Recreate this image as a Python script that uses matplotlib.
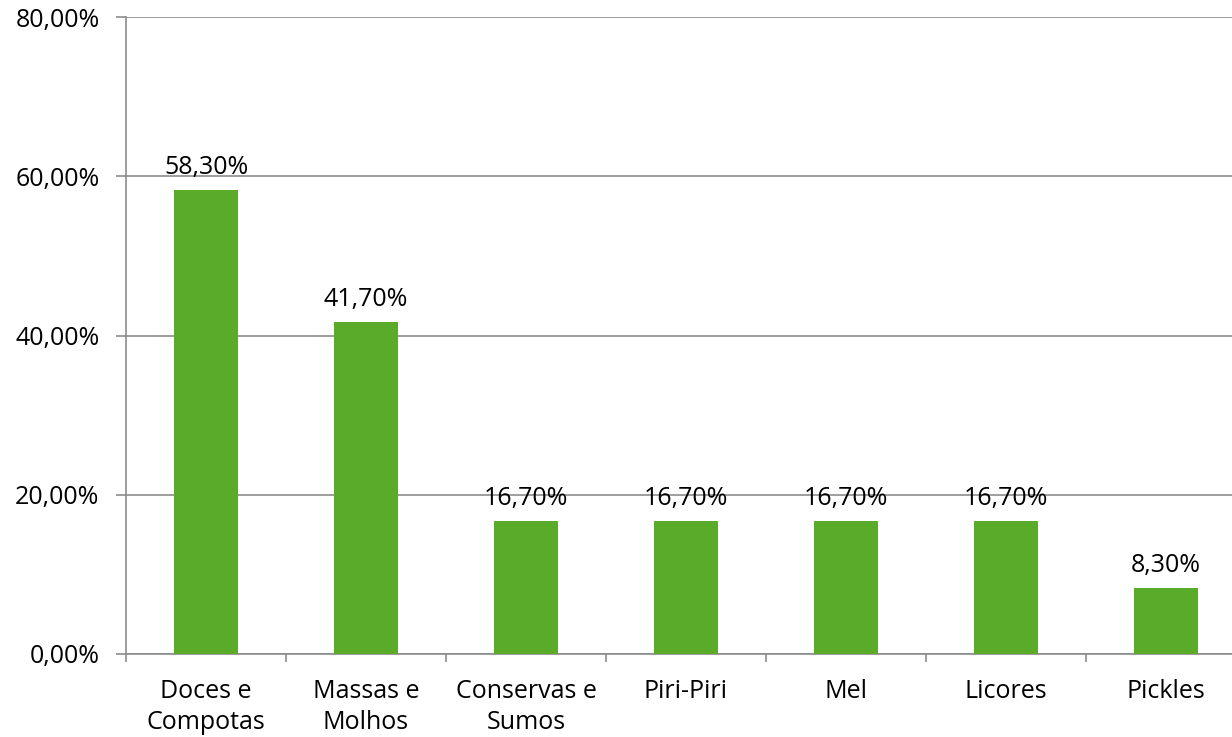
import matplotlib
matplotlib.use("Agg")
import matplotlib.pyplot as plt
from matplotlib.ticker import FuncFormatter, FixedLocator

# Chart data
categories = ["Doces e\nCompotas", "Massas e\nMolhos", "Conservas e\nSumos",
              "Piri-Piri", "Mel", "Licores", "Pickles"]
values = [58.3, 41.7, 16.7, 16.7, 16.7, 16.7, 8.3]
y_ticks = [0, 20, 40, 60, 80]

BAR_COLOR = "#5AAB29"
GRID_COLOR = "#8C8C8C"

plt.rcParams["font.family"] = ["Open Sans", "DejaVu Sans"]

fig = plt.figure(figsize=(12.32, 7.37), dpi=100)
W, H = 1232, 737
# axes spans past the right edge, as in the reference
ax = fig.add_axes([126 / W, (H - 654) / H, 1120 / W, 637 / H])

x = range(len(categories))
bars = ax.bar(x, values, width=0.4, color=BAR_COLOR, zorder=3)

for b, v in zip(bars, values):
    ax.annotate(f"{v:.2f}%".replace(".", ","),
                (b.get_x() + b.get_width() / 2, v),
                xytext=(0, 7), textcoords="offset points",
                ha="center", va="bottom", fontsize=18, color="black")

ax.set_xlim(-0.5, len(categories) - 0.5)
ax.set_ylim(0, 80)
ax.set_yticks(y_ticks)
ax.yaxis.set_major_formatter(FuncFormatter(lambda v, _: f"{v:.2f}%".replace(".", ",")))
ax.yaxis.grid(True, color=GRID_COLOR, linewidth=1.2, zorder=0)

# category labels centred, tick marks at boundaries
ax.set_xticks(list(x))
ax.set_xticklabels(categories, fontsize=18, linespacing=1.3)
ax.tick_params(axis="x", length=0, pad=18)
ax.xaxis.set_minor_locator(FixedLocator([i - 0.5 for i in range(len(categories) + 1)]))
ax.tick_params(axis="x", which="minor", length=6, width=1.2, color=GRID_COLOR, direction="out")
ax.tick_params(axis="y", length=7, width=1.2, color=GRID_COLOR, labelsize=18, pad=12)

for side in ["top", "right"]:
    ax.spines[side].set_visible(False)
for side in ["left", "bottom"]:
    ax.spines[side].set_color(GRID_COLOR)
    ax.spines[side].set_linewidth(1.2)

fig.savefig("out.png", dpi=100)
